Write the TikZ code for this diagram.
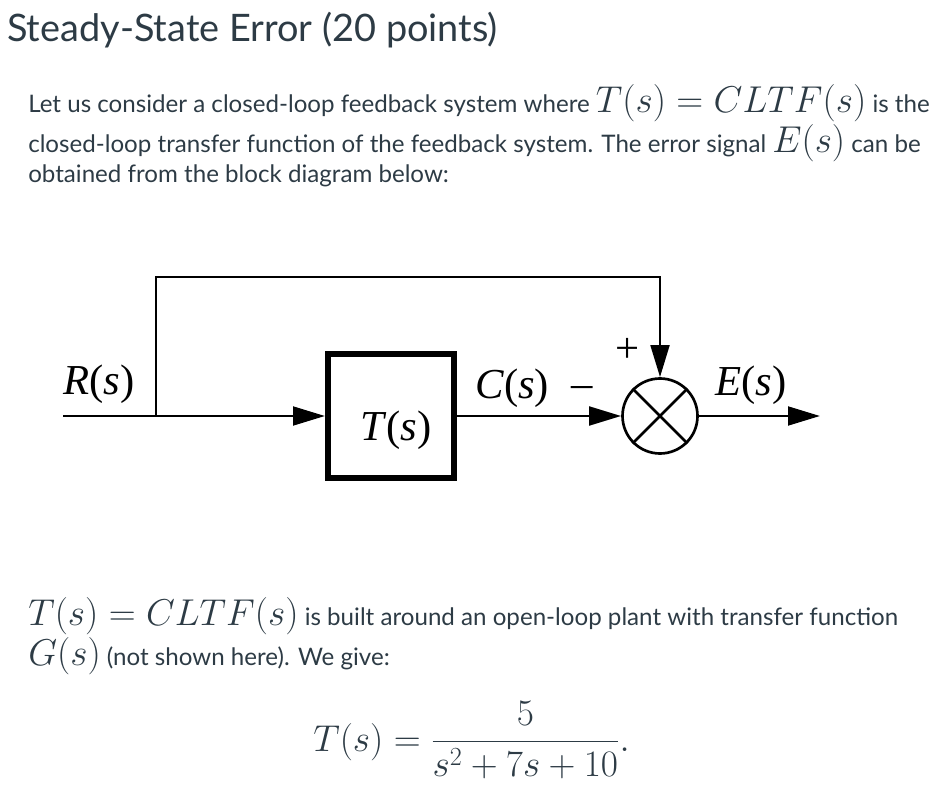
\RequirePackage{fix-cm}
\documentclass[tikz,border=0pt]{standalone}
\usepackage{fontspec}
\setmainfont{Lato}
\newfontfamily\timesfont{Liberation Serif}
\usetikzlibrary{arrows.meta}
\definecolor{txt}{HTML}{2D3B45}
\newcommand\mth[1]{{\fontsize{28pt}{30pt}\selectfont$#1$}}
\newcommand\sig[1]{\textit{#1}(\textit{s})}
\begin{document}
\begin{tikzpicture}[x=0.75pt,y=-0.75pt,
  wire/.style={line width=2.2pt, line join=miter},
  arr/.style={wire,-{Triangle[length=24pt,width=14pt]}},
  body/.style={inner sep=0pt, anchor=base west, text=txt, font=\fontsize{18.1pt}{20pt}\selectfont},
  lbl/.style={inner sep=0pt, font=\timesfont\fontsize{32pt}{32pt}\selectfont},
  blockbox/.style={draw, line width=4.2pt, minimum width=94.8pt, minimum height=93.3pt, inner sep=0pt},
  sumnode/.style={circle, draw, line width=2pt, minimum size=56.25pt, inner sep=0pt},
]
\useasboundingbox (0,0) rectangle (937,787);

\node[inner sep=0pt, anchor=base west, text=txt, font=\fontsize{28.4pt}{30pt}\selectfont] (title) at (7,42) {Steady-State Error (20 points)};

\node[body] (l1) at (28,113) {Let us consider a closed-loop feedback system where \mth{T(s)=CLTF(s)} is the};
\node[body] (l2) at (28,153) {closed-loop transfer function of the feedback system. The error signal \mth{E(s)} can be};
\node[body] (l3) at (28,183) {obtained from the block diagram below:};

% diagram
\coordinate (in) at (63,416);
\coordinate (br) at (156,416);
\coordinate (tl) at (156,277);
\coordinate (tr) at (660,277);
\coordinate (out) at (820,416);
\node[blockbox] (box) at (391,416) {};
\node[sumnode] (sum) at (660,416) {};
\draw[line width=2pt] (sum.north east) -- (sum.south west) (sum.north west) -- (sum.south east);

\draw[wire] (in) -- (br);
\draw[arr] (br) -- (box.west);
\draw[wire] (br) -- (tl) -- (tr) -- ([yshift=-1pt]tr);
\draw[arr] (tr) -- (sum.north);
\draw[arr] (box.east) -- (sum.west);
\draw[arr] (sum.east) -- (out);

\node[lbl, anchor=base west] (rl) at (63,394) {\sig{R}};
\node[lbl, anchor=base west] (cl) at (475,398) {\sig{C}};
\node[lbl, anchor=base west] (el) at (715,395) {\sig{E}};
\node[lbl, anchor=base] (tlbl) at (396,440) {\sig{T}};
\node[lbl, anchor=base] (plus) at (628,362) {+};
\node[lbl, anchor=base] (minus) at (582,397) {–};

\node[body] (l4) at (28,625) {\mth{T(s)=CLTF(s)} is built around an open-loop plant with transfer function};
\node[body] (l5) at (28,665) {\mth{G(s)} (not shown here). We give:};

\node[inner sep=0pt, anchor=base west, text=txt] (eq) at (313,751) {\mth{\displaystyle T(s)=\frac{5}{s^2+7s+10}.}};
\end{tikzpicture}
\end{document}
